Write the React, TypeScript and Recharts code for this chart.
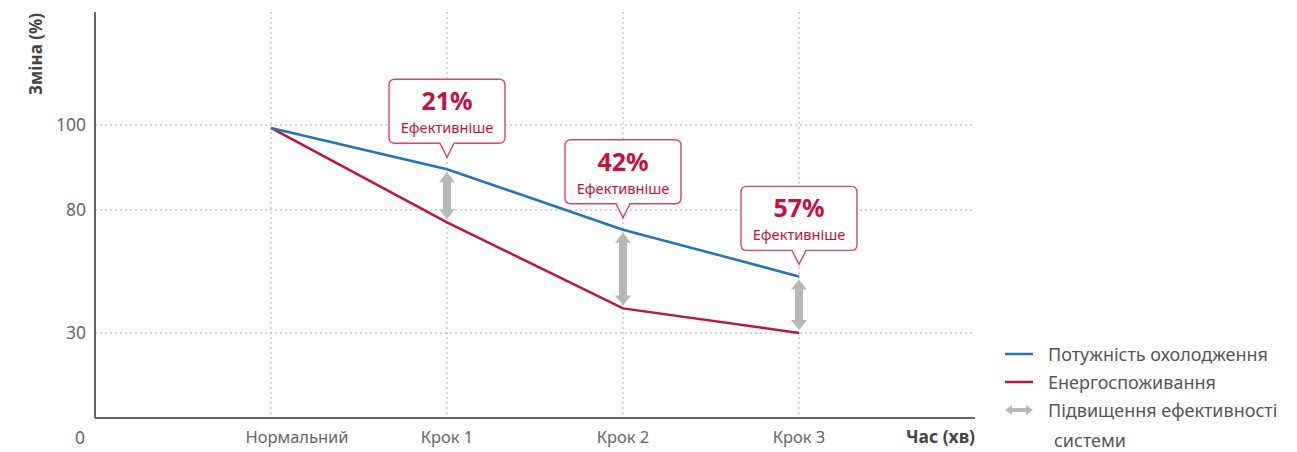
import React from "react";
import { Bar, CartesianGrid, ComposedChart, LabelList, Legend, Line, XAxis, YAxis } from "recharts";

// values
const categories = ["Нормальний", "Крок 1", "Крок 2", "Крок 3"];
const coolingCapacity = [99.3, 89.6, 72, 53];
const powerInput = [99.3, 75, 40, 30];
const efficiencyGain = ["", "21%", "42%", "57%"];
const yTicks = [0, 30, 80, 100];

// the value axis is not linear: each band between ticks has its own length
const bandValues = [0, 30, 80, 100];
const bandUnits = [0, 85, 208, 293];
const axisTop = 406;
const xMax = 5;

function toAxis(v: number) {
  for (let i = 1; i < bandValues.length; i++) {
    if (v <= bandValues[i]) {
      const t = (v - bandValues[i - 1]) / (bandValues[i] - bandValues[i - 1]);
      return bandUnits[i - 1] + t * (bandUnits[i] - bandUnits[i - 1]);
    }
  }
  const n = bandValues.length - 1;
  return bandUnits[n] + ((v - bandValues[n]) * (bandUnits[n] - bandUnits[n - 1])) / (bandValues[n] - bandValues[n - 1]);
}

const data = categories.map((name, i) => ({
  x: i + 1,
  name,
  cooling: toAxis(coolingCapacity[i]),
  power: toAxis(powerInput[i]),
  gap: efficiencyGain[i] ? [toAxis(powerInput[i]), toAxis(coolingCapacity[i])] : null,
  label: efficiencyGain[i],
}));

const BLUE = "#1f74bd";
const RED = "#c8103e";
const GREY = "#b7b7b7";
const AXIS = "#666";
const FONT = "'Noto Sans', sans-serif";

function Callout(props: any) {
  const { x, y, value } = props;
  if (!value) return null;
  const w = 116, h = 64, r = 6, pw = 7, ph = 14;
  const tipY = y - 12;
  const bottom = tipY - ph;
  const top = bottom - h;
  const left = x - w / 2;
  const right = x + w / 2;
  const d = `M${left + r},${top} H${right - r} Q${right},${top} ${right},${top + r} V${bottom - r} Q${right},${bottom} ${right - r},${bottom} H${x + pw} L${x},${tipY} L${x - pw},${bottom} H${left + r} Q${left},${bottom} ${left},${bottom - r} V${top + r} Q${left},${top} ${left + r},${top} Z`;
  return (
    <g>
      <path d={d} fill="#fff" stroke="#d8456b" strokeWidth={1.4} />
      <text x={x} y={top + 31} textAnchor="middle" fontSize={25} fontWeight={700} fill={RED} fontFamily={FONT}>
        {value}
      </text>
      <text x={x} y={top + 54} textAnchor="middle" fontSize={14.6} fill={RED} fontFamily={FONT}>
        Ефективніше
      </text>
    </g>
  );
}

function GapArrow(props: any) {
  const { x, y, width, height } = props;
  if (height == null || !width) return null;
  const cx = x + width / 2;
  const t = y + 3;
  const b = y + height - 3;
  const hh = 10, hw = 8, sw = 4;
  const pts = [
    [cx, t], [cx + hw, t + hh], [cx + sw, t + hh], [cx + sw, b - hh], [cx + hw, b - hh],
    [cx, b], [cx - hw, b - hh], [cx - sw, b - hh], [cx - sw, t + hh], [cx - hw, t + hh],
  ].map((p) => p.join(",")).join(" ");
  return <polygon points={pts} fill={GREY} />;
}

function YTick(props: any) {
  const { x, y, payload } = props;
  const v = yTicks[bandUnits.indexOf(payload.value)];
  if (v === 0) {
    return (
      <text x={x - 5} y={y + 26} textAnchor="middle" fontSize={17.5} fill={AXIS} fontFamily={FONT}>0</text>
    );
  }
  return (
    <text x={x + 1} y={y} dy={6} textAnchor="end" fontSize={17.5} fill={AXIS} fontFamily={FONT}>{v}</text>
  );
}

function XTick(props: any) {
  const { x, y, payload } = props;
  const i = payload.value - 1;
  return (
    <text x={x + (i === 0 ? 26 : 0)} y={y + 25} textAnchor="middle" fontSize={16.5} fill={AXIS} fontFamily={FONT}>
      {categories[i]}
    </text>
  );
}

function LegendBox() {
  const row: React.CSSProperties = { display: "flex", alignItems: "center", height: 28 };
  const text: React.CSSProperties = { fontSize: 18, color: "#555", marginLeft: 13, whiteSpace: "nowrap" };
  return (
    <div style={{ fontFamily: FONT }}>
      <div style={row}>
        <svg width={30} height={6} style={{ marginLeft: 8 }}><line x1={0} y1={3} x2={28} y2={3} stroke={BLUE} strokeWidth={2.5} /></svg>
        <span style={text}>Потужність охолодження</span>
      </div>
      <div style={row}>
        <svg width={30} height={6} style={{ marginLeft: 8 }}><line x1={0} y1={3} x2={28} y2={3} stroke={RED} strokeWidth={2.5} /></svg>
        <span style={text}>Енергоспоживання</span>
      </div>
      <div style={row}>
        <svg width={30} height={12} style={{ marginLeft: 8 }}>
          <polygon points="0,6 7,1 7,4 21,4 21,1 28,6 21,11 21,8 7,8 7,11" fill={GREY} />
        </svg>
        <span style={text}>Підвищення ефективності</span>
      </div>
      <div style={{ ...row, height: 32 }}>
        <span style={{ ...text, marginLeft: 57 }}>системи</span>
      </div>
    </div>
  );
}

function gridY(p: any) {
  const o = p.offset;
  return bandUnits.slice(1).map((v) => o.top + o.height * (1 - v / axisTop));
}

function gridX(p: any) {
  const o = p.offset;
  return data.map((d) => o.left + (o.width * d.x) / xMax);
}

export default function App() {
  return (
    <div style={{ fontFamily: FONT }}>
      <ComposedChart width={1281} height={444} data={data} margin={{ top: 4, right: 314, bottom: 0, left: 0 }}>
        <CartesianGrid
          stroke="#aaa"
          strokeDasharray="2 3"
          horizontalCoordinatesGenerator={gridY}
          verticalCoordinatesGenerator={gridX}
        />
        <XAxis
          type="number"
          dataKey="x"
          domain={[0, xMax]}
          ticks={[1, 2, 3, 4]}
          height={34}
          tickLine={false}
          tickSize={0}
          tickMargin={0}
          tick={<XTick />}
          stroke={AXIS}
          strokeWidth={2}
          label={{
            content: (p: any) => (
              <text x={p.viewBox.x + p.viewBox.width} y={p.viewBox.y + 25} textAnchor="end" fontSize={17.5} fontWeight={700} fill="#444" fontFamily={FONT}>
                Час (хв)
              </text>
            ),
          }}
        />
        <YAxis
          type="number"
          domain={[0, axisTop]}
          ticks={bandUnits}
          width={87}
          tickLine={false}
          tickSize={0}
          tickMargin={10}
          tick={<YTick />}
          stroke={AXIS}
          strokeWidth={2}
          label={{
            content: () => (
              <text x={27} y={46} transform="rotate(-90 27 46)" textAnchor="middle" dominantBaseline="central" fontSize={17} fontWeight={700} fill="#444" fontFamily={FONT}>
                Зміна (%)
              </text>
            ),
          }}
        />
        <Bar dataKey="gap" barSize={16} shape={<GapArrow />} isAnimationActive={false} />
        <Line type="linear" dataKey="power" stroke={RED} strokeWidth={2.5} dot={false} isAnimationActive={false} />
        <Line type="linear" dataKey="cooling" stroke={BLUE} strokeWidth={2.5} dot={false} isAnimationActive={false}>
          <LabelList dataKey="label" content={<Callout />} />
        </Line>
        <Legend
          layout="vertical"
          align="center"
          verticalAlign="middle"
          content={() => <LegendBox />}
          wrapperStyle={{ left: 989, top: 332, width: 290 }}
        />
      </ComposedChart>
    </div>
  );
}
